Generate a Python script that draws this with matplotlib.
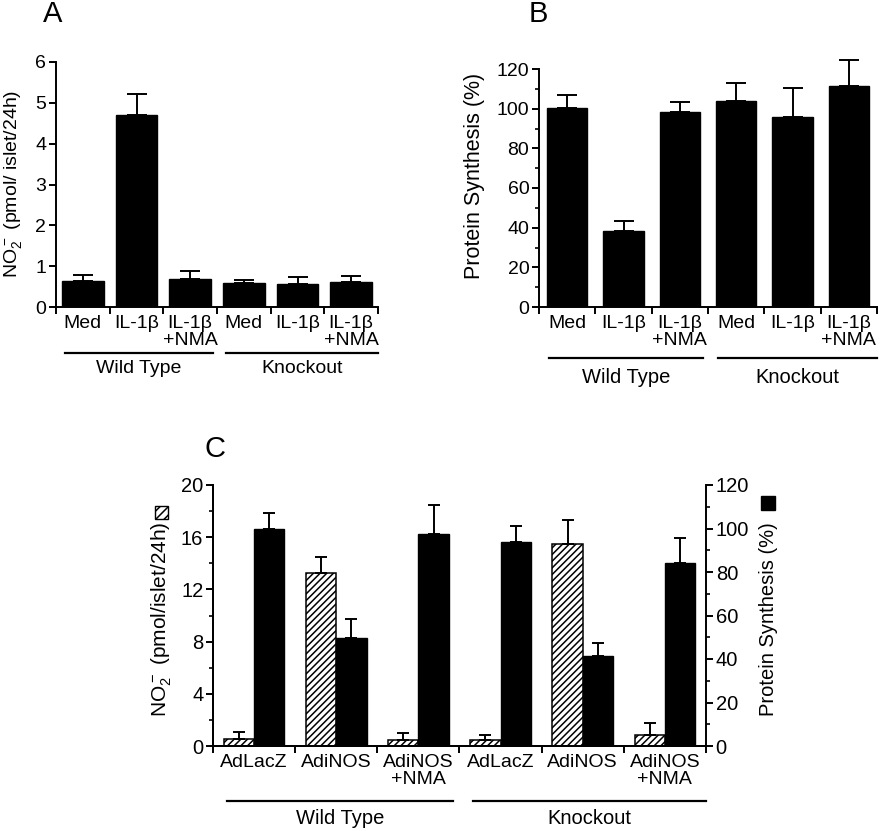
import numpy as np
import matplotlib
matplotlib.use("Agg")
import matplotlib.pyplot as plt
from matplotlib.patches import Rectangle

plt.rcParams['font.family'] = ['Liberation Sans', 'DejaVu Sans']
plt.rcParams['mathtext.default'] = 'regular'
plt.rcParams['axes.linewidth'] = 1.4
plt.rcParams['hatch.linewidth'] = 1.1

# ---- data ----
ab_labels = ["Med", "IL-1β", "IL-1β\n+NMA", "Med", "IL-1β", "IL-1β\n+NMA"]
a_no2 = [0.64, 4.69, 0.69, 0.59, 0.56, 0.62]
a_no2_err = [0.14, 0.52, 0.20, 0.08, 0.18, 0.14]
b_protein = [100.2, 38.5, 98.2, 104.0, 95.8, 111.4]
b_protein_err = [6.5, 5.0, 5.2, 8.8, 14.5, 13.3]

c_labels = ["AdLacZ", "AdiNOS", "AdiNOS\n+NMA", "AdLacZ", "AdiNOS", "AdiNOS\n+NMA"]
c_no2 = [0.56, 13.26, 0.46, 0.46, 15.5, 0.82]
c_no2_err = [0.49, 1.24, 0.57, 0.36, 1.8, 0.95]
c_protein = [99.8, 49.7, 97.5, 93.8, 41.2, 84.0]
c_protein_err = [7.4, 8.9, 13.4, 7.2, 6.3, 11.7]

groups = ["Wild Type", "Knockout"]

W, H = 883, 831
fig = plt.figure(figsize=(W / 100, H / 100), dpi=100)


def px(x, y):
    return x / W, 1 - y / H


def rect(l, t, r, b):
    return [l / W, 1 - b / H, (r - l) / W, (b - t) / H]


def style_x(ax, labels, fs):
    n = len(labels)
    ax.set_xlim(-0.5, n - 0.5)
    ax.set_xticks(np.arange(n))
    ax.set_xticklabels(labels, fontsize=fs, linespacing=0.95)
    ax.tick_params(axis='x', which='major', length=0, pad=6)
    ax.set_xticks(np.arange(n + 1) - 0.5, minor=True)
    ax.tick_params(axis='x', which='minor', length=5, width=1.4, direction='out')
    for s in ['top', 'right']:
        ax.spines[s].set_visible(False)


def style_y(ax, major, minor=None, fs=14):
    ax.set_yticks(major)
    if minor is not None:
        ax.set_yticks(minor, minor=True)
    ax.tick_params(axis='y', which='major', labelsize=fs, length=5, width=1.4,
                   direction='out', pad=2)
    ax.tick_params(axis='y', which='minor', length=3, width=1.2, direction='out')


def group_lines(ax, y_line, y_text, fs):
    tr = ax.get_xaxis_transform()
    spans = [(-0.33, 2.42), (2.67, 5.5)]
    for (x0, x1), g in zip(spans, groups):
        ax.plot([x0, x1], [y_line, y_line], color='black', lw=1.6,
                transform=tr, clip_on=False)
        ax.text((x0 + x1) / 2, y_text, g, transform=tr, ha='center', va='center',
                fontsize=fs)


x = np.arange(6)
ekw = dict(fmt='none', ecolor='black', elinewidth=1.4, capthick=1.4, clip_on=False)

# ---- panel A ----
axA = fig.add_axes(rect(56, 62, 378, 307))
axA.bar(x, a_no2, width=0.78, color='black', edgecolor='black')
axA.errorbar(x, a_no2, yerr=[np.zeros(6), a_no2_err], capsize=7, **ekw)
axA.set_ylim(0, 6)
style_y(axA, range(7))
style_x(axA, ab_labels, 14)
group_lines(axA, -0.188, -0.25, 14)
fig.text(*px(13, 184), 'NO$_2^-$ (pmol/ islet/24h)', rotation=90,
         ha='center', va='center', fontsize=14)
fig.text(*px(53, 14), 'A', fontsize=21, ha='center', va='center')

# ---- panel B ----
axB = fig.add_axes(rect(539, 69, 877, 307))
axB.bar(x, b_protein, width=0.72, color='black', edgecolor='black')
axB.errorbar(x, b_protein, yerr=[np.zeros(6), b_protein_err], capsize=7, **ekw)
axB.set_ylim(0, 120)
style_y(axB, range(0, 121, 20), range(0, 121, 10))
style_x(axB, ab_labels, 14)
group_lines(axB, -0.214, -0.298, 14.5)
fig.text(*px(474, 176), 'Protein Synthesis (%)', rotation=90,
         ha='center', va='center', fontsize=15.5)
fig.text(*px(538, 14), 'B', fontsize=21, ha='center', va='center')

# ---- panel C ----
axC = fig.add_axes(rect(213, 485, 706, 746))
axC2 = axC.twinx()
bw = 0.37
axC.bar(x - bw / 2, c_no2, width=bw, color='white', edgecolor='black',
        hatch='/////', linewidth=1.1)
axC.errorbar(x - bw / 2, c_no2, yerr=[np.zeros(6), c_no2_err], capsize=4.5, **ekw)
axC2.bar(x + bw / 2, c_protein, width=bw, color='black', edgecolor='black')
axC2.errorbar(x + bw / 2, c_protein, yerr=[np.zeros(6), c_protein_err],
              capsize=4.5, **ekw)
axC.set_ylim(0, 20)
style_y(axC, range(0, 21, 4), range(0, 21, 2), fs=14.5)
axC2.set_ylim(0, 120)
style_y(axC2, range(0, 121, 20), range(0, 121, 10), fs=14.5)
style_x(axC, c_labels, 14)
axC2.spines['top'].set_visible(False)
group_lines(axC, -0.211, -0.276, 14.5)
fig.text(*px(162, 522), 'NO$_2^-$ (pmol/islet/24h)', rotation=90,
         rotation_mode='anchor', ha='right', va='center', fontsize=15)
fig.patches.append(Rectangle(px(155, 519), 13 / W, 13 / H, transform=fig.transFigure,
                             facecolor='white', edgecolor='black', hatch='////',
                             linewidth=1.0))
fig.text(*px(768, 522), 'Protein Synthesis (%)', rotation=90,
         rotation_mode='anchor', ha='right', va='center', fontsize=14.5)
fig.patches.append(Rectangle(px(761, 510), 14 / W, 14 / H, transform=fig.transFigure,
                             facecolor='black', edgecolor='black'))
fig.text(*px(215, 449), 'C', fontsize=21, ha='center', va='center')

fig.savefig('out.png', dpi=100, facecolor='white')
